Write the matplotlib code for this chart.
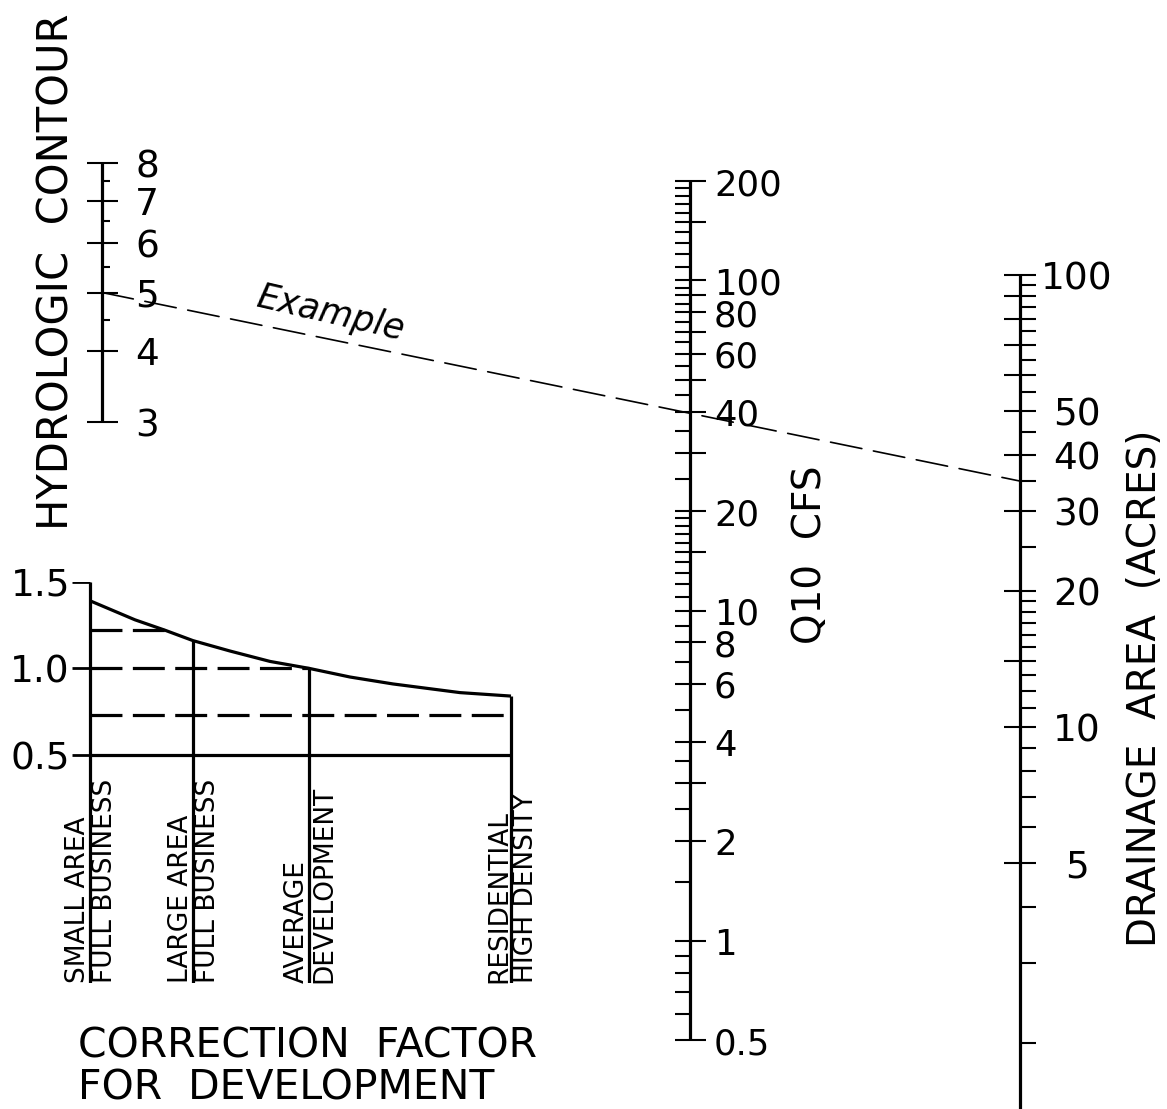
import matplotlib
matplotlib.use("Agg")
import matplotlib.pyplot as plt
from matplotlib.patches import ConnectionPatch
import numpy as np

plt.rcParams['font.family'] = ['DejaVu Sans']
plt.rcParams['lines.scale_dashes'] = False
plt.rcParams['lines.solid_capstyle'] = 'butt'

W, H = 1167, 1109

"""DATA"""
# Hydrologic contour scale
hydro_major = [3, 4, 5, 6, 7, 8]
hydro_minor = [4.5, 5.5, 6.5, 7.5]

# Q10 discharge scale (cfs)
q_major = [0.5, 1, 2, 3, 4, 6, 8, 10, 15, 20, 30, 40, 50, 60, 70, 80, 90, 100, 150, 200]
q_minor = [0.6, 0.7, 0.8, 0.9, 1.5, 2.5, 3.5, 5, 7, 9, 11, 12, 13, 14, 16, 17, 18, 19,
           25, 35, 45, 55, 65, 75, 85, 95, 110, 120, 130, 140, 160, 170, 180, 190]
q_labels = [0.5, 1, 2, 4, 6, 8, 10, 20, 40, 60, 80, 100, 200]

# Drainage area scale (acres)
area_major = [5, 10, 14, 20, 30, 40, 50, 60, 70, 80, 90, 100]
area_minor = [2, 3, 4, 6, 7, 8, 9, 11, 12, 13, 15, 16, 17, 18, 19,
              25, 35, 45, 55, 65, 75, 85, 95]
area_labels = [5, 10, 20, 30, 40, 50, 100]

# Correction factor for development
factor_ticks = [0.5, 1.0, 1.5]
dev_upper = ["SMALL AREA", "LARGE AREA", "AVERAGE", "RESIDENTIAL"]
dev_lower = ["FULL BUSINESS", "FULL BUSINESS", "DEVELOPMENT", "HIGH DENSITY"]
dev_factor = [1.39, 1.16, 1.0, 0.84]
curve_factor = [1.39, 1.28, 1.22, 1.16, 1.10, 1.04, 1.0, 0.95, 0.91, 0.86, 0.84]
guide_factor = [1.22, 1.0, 0.73]

# Worked example: contour 5 -> area 35 acres (Q10 about 40 cfs)
example_contour = 5
example_area = 35

"""LAYOUT (pixels)"""
dev_x = [90, 193, 309, 511]
curve_x = [90, 135, 165, 193, 230, 270, 309, 350, 393, 460, 511]
guide_end = [165, 309, 505]

fig = plt.figure(figsize=(W / 100, H / 100), dpi=100)
page = fig.add_axes([0, 0, 1, 1])
page.set_xlim(0, W)
page.set_ylim(H, 0)
page.axis('off')


def scale_axes(top, bottom):
    """Axes spanning full width, covering the pixel rows top..bottom"""
    ax = fig.add_axes([0, 1 - bottom / H, 1, (bottom - top) / H])
    ax.set_xlim(0, W)
    ax.axis('off')
    return ax


def draw_scale(ax, x, lo, hi, major, minor, major_span, minor_span):
    ax.plot([x, x], [lo, hi], color='black', lw=2.3, clip_on=False)
    ax.hlines(major, major_span[0], major_span[1], color='black', lw=1.5, clip_on=False)
    ax.hlines(minor, minor_span[0], minor_span[1], color='black', lw=1.5, clip_on=False)


def label_scale(ax, x, values, ha, size=27):
    for v in values:
        ax.annotate(f"{v:g}", xy=(x, v), xytext=(0, -3), textcoords='offset points',
                    ha=ha, va='center', fontsize=size, annotation_clip=False)


# Hydrologic contour
ax_h = scale_axes(163, 422)
ax_h.set_yscale('function', functions=(lambda v: np.log10(v + 1), lambda u: 10 ** u - 1))
ax_h.set_ylim(3, 8)
draw_scale(ax_h, 102, 3, 8, hydro_major, hydro_minor, (87, 118), (102, 110))
label_scale(ax_h, 135, hydro_major, 'left')

# Q10 cfs
ax_q = scale_axes(181, 1040)
ax_q.set_yscale('log')
ax_q.set_ylim(0.5, 200)
draw_scale(ax_q, 690, 0.5, 200, q_major, q_minor, (675, 706), (675, 690))
label_scale(ax_q, 714, q_labels, 'left', size=25.5)

# Drainage area
area_lo = 100 / 10 ** ((H - 275) / 452)
ax_d = scale_axes(275, H)
ax_d.set_yscale('log')
ax_d.set_ylim(area_lo, 100)
draw_scale(ax_d, 1020, area_lo, 100, area_major, area_minor, (1004, 1036), (1020, 1036))
label_scale(ax_d, 1077, area_labels, 'center')

# Correction factor chart
cf_bottom = 983
ax_c = scale_axes(581.7, cf_bottom)
ax_c.set_ylim(1.5 - (cf_bottom - 581.7) / 173.3, 1.5)
c_lo = ax_c.get_ylim()[0]
ax_c.hlines(factor_ticks, 72, dev_x[0], color='black', lw=2)
ax_c.hlines(factor_ticks[0], dev_x[0], dev_x[-1], color='black', lw=2.3)
ax_c.plot(curve_x, curve_factor, color='black', lw=2.3)
ax_c.vlines(dev_x[0], c_lo, factor_ticks[-1], color='black', lw=2.3)
ax_c.vlines(dev_x[1:], c_lo, dev_factor[1:], color='black', lw=2.3)
for f, xe in zip(guide_factor, guide_end):
    ax_c.plot([dev_x[0], xe], [f, f], color='black', lw=2.3, linestyle=(0, (23, 7.5)))
for v in factor_ticks:
    ax_c.annotate(f"{v:.1f}", xy=(70, v), xytext=(0, -3), textcoords='offset points',
                  ha='right', va='center', fontsize=27)
for x, top, bot in zip(dev_x, dev_upper, dev_lower):
    page.text(x - 12, cf_bottom, top, rotation=90, ha='center', va='bottom', fontsize=19)
    page.text(x + 15, cf_bottom, bot, rotation=90, ha='center', va='bottom', fontsize=19)

# Example line across the three scales
con = ConnectionPatch(xyA=(102, example_contour), coordsA=ax_h.transData,
                      xyB=(1020, example_area), coordsB=ax_d.transData,
                      color='black', lw=1.2, linestyle=(0, (23, 8.5)))
fig.add_artist(con)

# Titles
page.text(57, 530, "HYDROLOGIC  CONTOUR", rotation=90, ha='center', va='bottom', fontsize=30)
page.text(810, 555, "Q10  CFS", rotation=90, ha='center', va='center', fontsize=28)
page.text(1145, 688, "DRAINAGE  AREA  (ACRES)", rotation=90, ha='center', va='center', fontsize=28)
page.text(330, 313, "Example", rotation=-13, ha='center', va='center', fontsize=25, style='italic')
page.text(78, 1047, "CORRECTION  FACTOR", ha='left', va='center', fontsize=29.5)
page.text(78, 1088, "FOR  DEVELOPMENT", ha='left', va='center', fontsize=29.5)

fig.savefig("out.png", dpi=100)
